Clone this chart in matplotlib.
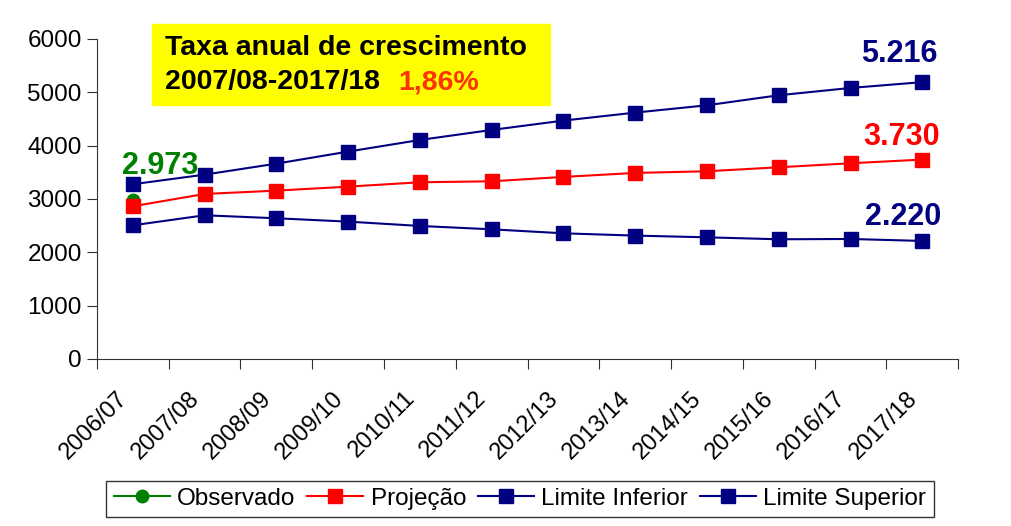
import numpy as np
import matplotlib.pyplot as plt

plt.rcParams['font.family'] = ['Liberation Sans', 'DejaVu Sans']

safras = ["2006/07", "2007/08", "2008/09", "2009/10", "2010/11", "2011/12",
          "2012/13", "2013/14", "2014/15", "2015/16", "2016/17", "2017/18"]
observado = [2973]
projecao = [2863, 3094, 3156, 3231, 3313, 3331, 3413, 3488, 3519, 3594, 3669, 3738]
lim_inferior = [2506, 2694, 2638, 2575, 2494, 2431, 2356, 2313, 2281, 2244, 2250, 2213]
lim_superior = [3276, 3456, 3662, 3888, 4106, 4294, 4469, 4619, 4756, 4944, 5081, 5190]

navy = "#000080"
red = "#ff0000"
green = "#008000"

fig = plt.figure(figsize=(10.12, 5.26), dpi=100)
ax = fig.add_axes([0.0958, 0.3175, 0.851, 0.6085])

x = np.arange(len(safras)) + 0.5
ax.plot(x, lim_inferior, color=navy, marker="s", ms=9.5, lw=1.5, label="Limite Inferior", zorder=3)
ax.plot(x, lim_superior, color=navy, marker="s", ms=9.5, lw=1.5, label="Limite Superior", zorder=3)
ax.plot(x, projecao, color=red, marker="s", ms=9.5, lw=1.5, label="Projeção", zorder=4)
ax.plot(x[:1], observado, color=green, marker="o", ms=9, lw=1.5, label="Observado", zorder=2)

ax.set_xlim(0, len(safras))
ax.set_ylim(0, 6000)
ax.set_yticks(range(0, 6001, 1000))
ax.set_xticks(np.arange(len(safras) + 1))
ax.set_xticklabels([])
# category labels sit slightly left of the point
ax.set_xticks(x - 0.12, minor=True)
ax.set_xticklabels(safras, minor=True, rotation=45, ha="right", va="center",
                   rotation_mode="anchor", fontsize=17)
ax.tick_params(axis="x", which="minor", length=0, pad=26)
ax.tick_params(axis="x", which="major", length=7, color="#333333")
ax.tick_params(axis="y", length=7, labelsize=17.5, color="#333333", pad=4)
for s in ["top", "right"]:
    ax.spines[s].set_visible(False)
for s in ["left", "bottom"]:
    ax.spines[s].set_color("#333333")

# value labels
ax.text(x[0] - 0.15, observado[0] + 650, "2.973", color=green, fontsize=22, fontweight="bold", ha="left", va="center")
ax.text(x[-1] + 0.22, lim_superior[-1] + 520, "5.216", color=navy, fontsize=22, fontweight="bold", ha="right", va="center")
ax.text(x[-1] + 0.25, projecao[-1] + 420, "3.730", color=red, fontsize=22, fontweight="bold", ha="right", va="center")
ax.text(x[-1] + 0.26, lim_inferior[-1] + 440, "2.220", color=navy, fontsize=22, fontweight="bold", ha="right", va="center")

# yellow box
fig.patches.append(plt.Rectangle((152 / 1012, 1 - 105 / 526), 398 / 1012, 81 / 526,
                                 transform=fig.transFigure, color="#ffff00", zorder=0))
fig.text(165 / 1012, 1 - 48 / 526, "Taxa anual de crescimento", fontsize=20.5, fontweight="bold", va="center")
fig.text(165 / 1012, 1 - 82 / 526, "2007/08-2017/18", fontsize=20.5, fontweight="bold", va="center")
fig.text(398 / 1012, 1 - 82 / 526, "1,86%", fontsize=20.5, fontweight="bold", va="center", color="#ff3300")

h, l = ax.get_legend_handles_labels()
order = [3, 2, 0, 1]
leg = fig.legend([h[i] for i in order], [l[i] for i in order], loc="center",
                 bbox_to_anchor=(520 / 1012, 1 - 499 / 526), ncol=4, fontsize=17.5,
                 frameon=True, fancybox=False, edgecolor="black", handlelength=2.3,
                 handletextpad=0.3, columnspacing=0.5, borderpad=0.3, borderaxespad=0)
leg.get_frame().set_linewidth(1.0)

fig.savefig("out.png", dpi=100)
